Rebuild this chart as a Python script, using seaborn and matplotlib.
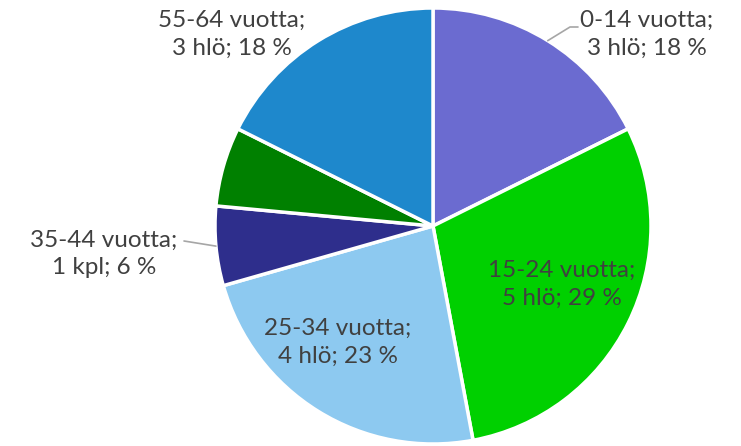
import matplotlib.pyplot as plt
import seaborn as sns
import numpy as np

sns.set_theme(style="white")
plt.rcParams["font.family"] = ["Lato", "DejaVu Sans"]

groups = ["0-14 vuotta", "15-24 vuotta", "25-34 vuotta", "35-44 vuotta", "45-54 vuotta", "55-64 vuotta"]
counts = [3, 5, 4, 1, 1, 3]
units = ["hlö", "hlö", "hlö", "kpl", "hlö", "hlö"]
percents = [18, 29, 23, 6, 6, 18]
colors = ["#6B6BD0", "#00D000", "#8DC9F0", "#2E2E8C", "#008000", "#1E88CC"]

W, H = 741, 446
cx, cy, R = 433, 226, 218

fig = plt.figure(figsize=(W / 100, H / 100), dpi=100)
ax = fig.add_axes([(cx - R) / W, (H - cy - R) / H, 2 * R / W, 2 * R / H])

ax.pie(counts, colors=colors, startangle=90, counterclock=False,
       wedgeprops=dict(edgecolor="white", linewidth=2.5), radius=1)
ax.set_xlim(-1, 1)
ax.set_ylim(-1, 1)
ax.set_aspect("equal")


def px(x, y):
    return (x - cx) / R, (cy - y) / R


# wedge mid angles for leader lines
cum = np.cumsum([0] + counts)
total = sum(counts)
mid = [np.deg2rad(90 - (cum[i] + counts[i] / 2) / total * 360) for i in range(len(counts))]

txt_color = "#404040"
fs = 17.5

# label positions (pixels) for each labelled slice; 45-54 has none
label_pos = {0: (647, 34), 1: (562, 284), 2: (338, 342), 3: (104, 254), 5: (232, 34)}
for i, (x, y) in label_pos.items():
    tx, ty = px(x, y)
    ax.text(tx, ty, f"{groups[i]};\n{counts[i]} {units[i]}; {percents[i]} %",
            ha="center", va="center", fontsize=fs, color=txt_color, linespacing=1.4)

# leader lines
e0 = (np.cos(mid[0]), np.sin(mid[0]))
p1 = px(570, 27)
p2 = px(578, 27)
ax.plot([e0[0], p1[0], p2[0]], [e0[1], p1[1], p2[1]], color="#A6A6A6", lw=1.2, clip_on=False)

e3 = (np.cos(mid[3]), np.sin(mid[3]))
q1 = px(184, 241)
ax.plot([e3[0], q1[0]], [e3[1], q1[1]], color="#A6A6A6", lw=1.2, clip_on=False)

fig.savefig("out.png", dpi=100)
